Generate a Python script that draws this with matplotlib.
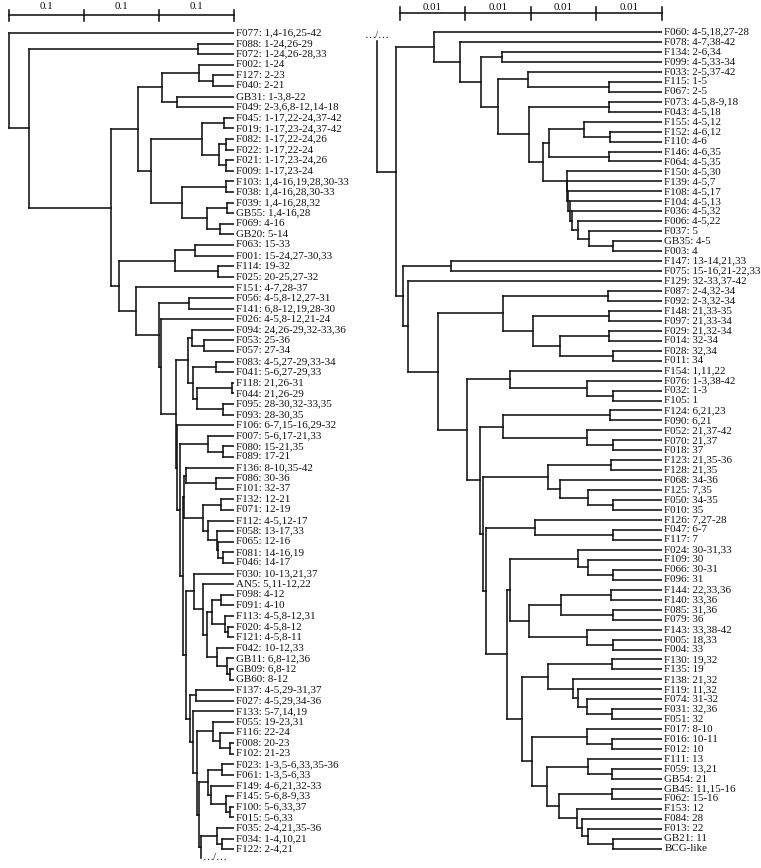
import matplotlib
matplotlib.use("Agg")
import matplotlib.pyplot as plt

# ---------------- data ----------------
LEFT_IDS = ["F077", "F088", "F072", "F002", "F127", "F040", "GB31", "F049", "F045", "F019",
            "F082", "F022", "F021", "F009", "F103", "F038", "F039", "GB55", "F069", "GB20",
            "F063", "F001", "F114", "F025", "F151", "F056", "F141", "F026", "F094", "F053",
            "F057", "F083", "F041", "F118", "F044", "F095", "F093", "F106", "F007", "F080",
            "F089", "F136", "F086", "F101", "F132", "F071", "F112", "F058", "F065", "F081",
            "F046", "F030", "AN5", "F098", "F091", "F113", "F020", "F121", "F042", "GB11",
            "GB09", "GB60", "F137", "F027", "F133", "F055", "F116", "F008", "F102", "F023",
            "F061", "F149", "F145", "F100", "F015", "F035", "F034", "F122"]
LEFT_SPACERS = ["1,4-16,25-42", "1-24,26-29", "1-24,26-28,33", "1-24", "2-23", "2-21",
                "1-3,8-22", "2-3,6,8-12,14-18", "1-17,22-24,37-42", "1-17,23-24,37-42",
                "1-17,22-24,26", "1-17,22-24", "1-17,23-24,26", "1-17,23-24",
                "1,4-16,19,28,30-33", "1,4-16,28,30-33", "1,4-16,28,32", "1,4-16,28", "4-16",
                "5-14", "15-33", "15-24,27-30,33", "19-32", "20-25,27-32", "4-7,28-37",
                "4-5,8-12,27-31", "6,8-12,19,28-30", "4-5,8-12,21-24", "24,26-29,32-33,36",
                "25-36", "27-34", "4-5,27-29,33-34", "5-6,27-29,33", "21,26-31", "21,26-29",
                "28-30,32-33,35", "28-30,35", "6-7,15-16,29-32", "5-6,17-21,33", "15-21,35",
                "17-21", "8-10,35-42", "30-36", "32-37", "12-21", "12-19", "4-5,12-17",
                "13-17,33", "12-16", "14-16,19", "14-17", "10-13,21,37", "5,11-12,22", "4-12",
                "4-10", "4-5,8-12,31", "4-5,8-12", "4-5,8-11", "10-12,33", "6,8-12,36",
                "6,8-12", "8-12", "4-5,29-31,37", "4-5,29,34-36", "5-7,14,19", "19-23,31",
                "22-24", "20-23", "21-23", "1-3,5-6,33,35-36", "1-3,5-6,33", "4-6,21,32-33",
                "5-6,8-9,33", "5-6,33,37", "5-6,33", "2-4,21,35-36", "1-4,10,21", "2-4,21"]

RIGHT_IDS = ["F060", "F078", "F134", "F099", "F033", "F115", "F067", "F073", "F043", "F155",
             "F152", "F110", "F146", "F064", "F150", "F139", "F108", "F104", "F036", "F006",
             "F037", "GB35", "F003", "F147", "F075", "F129", "F087", "F092", "F148", "F097",
             "F029", "F014", "F028", "F011", "F154", "F076", "F032", "F105", "F124", "F090",
             "F052", "F070", "F018", "F123", "F128", "F068", "F125", "F050", "F010", "F126",
             "F047", "F117", "F024", "F109", "F066", "F096", "F144", "F140", "F085", "F079",
             "F143", "F005", "F004", "F130", "F135", "F138", "F119", "F074", "F031", "F051",
             "F017", "F016", "F012", "F111", "F059", "GB54", "GB45", "F062", "F153", "F084",
             "F013", "GB21", "BCG-like"]
RIGHT_SPACERS = ["4-5,18,27-28", "4-7,38-42", "2-6,34", "4-5,33-34", "2-5,37-42", "1-5", "2-5",
                 "4-5,8-9,18", "4-5,18", "4-5,12", "4-6,12", "4-6", "4-6,35", "4-5,35", "4-5,30",
                 "4-5,7", "4-5,17", "4-5,13", "4-5,32", "4-5,22", "5", "4-5", "4",
                 "13-14,21,33", "15-16,21-22,33", "32-33,37-42", "2-4,32-34", "2-3,32-34",
                 "21,33-35", "21,33-34", "21,32-34", "32-34", "32,34", "34", "1,11,22",
                 "1-3,38-42", "1-3", "1", "6,21,23", "6,21", "21,37-42", "21,37", "37",
                 "21,35-36", "21,35", "34-36", "7,35", "34-35", "35", "7,27-28", "6-7", "7",
                 "30-31,33", "30", "30-31", "31", "22,33,36", "33,36", "31,36", "36",
                 "33,38-42", "18,33", "33", "19,32", "19", "21,32", "11,32", "31-32", "32,36",
                 "32", "8-10", "10-11", "10", "13", "13,21", "21", "11,15-16", "15-16", "12",
                 "28", "22", "11", ""]

CONT = "…/…"   # the tree continues in the other panel

# node = [height (distance from the tips), child, child, ...]
LT_A = [0.128,
        [0.096, [0.047, "F002", [0.028, "F127", "F040"]], [0.076, "GB31", "F049"]],
        [0.111,
         [0.043, [0.014, "F045", "F019"], [0.020, [0.011, "F082", "F022"], [0.011, "F021", "F009"]]],
         [0.069, [0.011, "F103", "F038"], [0.036, [0.009, "F039", "GB55"], [0.019, "F069", "GB20"]]]]]
LT_B = [0.061, [0.056, "F094", [0.040, "F053", "F057"]],
        [0.055, [0.024, "F083", "F041"], [0.049, [0.003, "F118", "F044"], [0.015, "F095", "F093"]]]]
LT_C = [0.067, [0.064, "F136", [0.024, "F086", "F101"]],
        [0.041, [0.017, "F132", "F071"],
         [0.035, "F112", [0.023, "F058", [0.021, "F065", [0.015, "F081", "F046"]]]]]]
LT_D = [0.053, "F030", [0.041, "AN5",
        [0.036, [0.029, [0.017, "F098", "F091"], [0.012, "F113", [0.008, "F020", "F121"]]],
         [0.023, "F042", [0.009, "GB11", [0.005, "GB09", "GB60"]]]]]]
LT_E = [0.049, [0.028, "F055", [0.019, "F116", [0.005, "F008", "F102"]]],
        [0.047, [0.035, [0.016, "F023", "F061"], [0.031, "F149", [0.011, "F145", [0.005, "F100", "F015"]]]],
         [0.044, [0.023, "F035", [0.016, "F034", "F122"]], CONT]]]
LT_F = [0.077, LT_B,
        [0.076, "F106",
         [0.072, [0.035, "F007", [0.015, "F080", "F089"]],
          [0.068, LT_C,
           [0.064, LT_D, [0.059, [0.051, "F137", "F027"], [0.055, "F133", LT_E]]]]]]]
LEFT_TREE = [0.300, "F077",
             [0.273, [0.048, "F088", "F072"],
              [0.164, LT_A,
               [0.153, [0.079, [0.052, "F063", "F001"], [0.021, "F114", "F025"]],
                [0.131, "F151",
                 [0.100, [0.060, "F056", "F141"], [0.097, "F026", LT_F]]]]]]]

RT_COMB = [0.01453, "F150", [0.01444, "F139", [0.01428, "F108", [0.01402, "F104",
           [0.01367, "F036", [0.01276, "F006", [0.01108, "F037", [0.00742, "GB35", "F003"]]]]]]]]
RT_A = [0.02500, [0.02043, "F033", [0.00808, "F115", "F067"]],
        [0.02027, [0.00808, "F073", "F043"],
         [0.01814, [0.01723, [0.01189, "F155", [0.00793, "F152", "F110"]], [0.00808, "F146", "F064"]],
          RT_COMB]]]
RT_UP = [0.03476, "F060", [0.03079, "F078", [0.02759, [0.02439, "F134", "F099"], RT_A]]]
RT_F087 = [0.02419, [0.00828, "F087", "F092"],
           [0.01962, [0.00803, "F148", "F097"], [0.01555, [0.00803, "F029", "F014"], [0.00752, "F028", "F011"]]]]
RT_F024 = [0.02317, [0.01285, "F024", [0.01123, "F109", [0.00752, "F066", "F096"]]],
           [0.02023, [0.01540, [0.00782, "F144", "F140"], [0.00752, "F085", "F079"]],
            [0.01148, "F143", [0.00752, "F005", "F004"]]]]
RT_F130 = [0.02130,
           [0.01733, [0.00758, "F130", "F135"],
            [0.01352, "F138", [0.01276, "F119", [0.01148, "F074", [0.00758, "F031", "F051"]]]]],
           [0.01986, [0.01148, "F017", [0.00758, "F016", "F012"]],
            [0.01758, [0.01123, "F111", [0.00758, "F059", "GB54"]],
             [0.01570, [0.00758, "GB45", "F062"],
              [0.01291, "F153", [0.01224, "F084", [0.01123, "F013", [0.00742, "GB21", "BCG-like"]]]]]]]]
RT_LOW = [0.02968,
          [0.02317, "F154", [0.01148, "F076", [0.00752, "F032", "F105"]]],
          [0.02774,
           [0.02431, [0.00793, "F124", "F090"], [0.01148, "F052", [0.00752, "F070", "F018"]]],
           [0.02724,
            [0.01738, [0.00782, "F123", "F128"], [0.01555, "F068", [0.01133, "F125", [0.00752, "F050", "F010"]]]],
            [0.02688, [0.01936, "F126", [0.00752, "F047", "F117"]],
             [0.02367, RT_F024, RT_F130]]]]]
RIGHT_TREE = [0.0434, CONT,
              [0.04055, RT_UP,
               [0.03944, [0.03221, "F147", "F075"],
                [0.03867, "F129", [0.03415, RT_F087, RT_LOW]]]]]

LEFT_SCALE_STEP, LEFT_SCALE_N = 0.1, 3
RIGHT_SCALE_STEP, RIGHT_SCALE_N = 0.01, 4

# ---------------- layout ----------------
W, H, DPI = 761, 868, 100
FONT = "Liberation Serif"
FS = 7.9
LW = 1.15
COL = "#111111"

fig = plt.figure(figsize=(W / DPI, H / DPI), dpi=DPI)
fig.patch.set_facecolor("white")


def make_axes(x0_px, tip_px, px_per_unit, top_px, row_px):
    ax = fig.add_axes([x0_px / W, 0, (tip_px - x0_px) / W, 1])
    ax.set_xlim((tip_px - x0_px) / px_per_unit, 0)
    ax.set_ylim((H - top_px) / row_px, -top_px / row_px)
    ax.axis("off")
    return ax


def draw_tree(ax, tree, labels, ppu, cont_row, marker_mode):
    state = {"row": 0}
    gap = 2.5 / ppu

    def rec(node):
        if isinstance(node, str):
            if node == CONT:
                return None, cont_row
            r = state["row"]
            state["row"] += 1
            ax.text(-gap, r, labels[node], ha="left", va="center", fontsize=FS,
                    family=FONT, color=COL, clip_on=False)
            return 0.0, r
        h = node[0]
        kids = [rec(c) for c in node[1:]]
        ys = [k[1] for k in kids]
        ax.plot([h, h], [min(ys), max(ys)], color=COL, lw=LW, solid_capstyle="projecting")
        for (kh, ky), c in zip(kids, node[1:]):
            if c == CONT:
                if marker_mode == "below":
                    ax.text(h - 2 / ppu, ky, CONT, ha="left", va="center", fontsize=FS,
                            family=FONT, color=COL, clip_on=False)
                else:
                    ax.text(h, ky - 0.55, CONT, ha="center", va="center", fontsize=FS,
                            family=FONT, color=COL, clip_on=False)
                continue
            ax.plot([h, kh], [ky, ky], color=COL, lw=LW, solid_capstyle="projecting")
        return h, (ys[0] + ys[-1]) / 2

    rec(tree)


def draw_scale(ax, step, n, bar_row, tick_half, label_row, text):
    ax.plot([0, step * n], [bar_row, bar_row], color=COL, lw=LW, clip_on=False)
    for i in range(n + 1):
        ax.plot([i * step, i * step], [bar_row - tick_half, bar_row + tick_half],
                color=COL, lw=LW, clip_on=False)
    for i in range(n):
        ax.text((i + 0.5) * step, label_row, text, ha="center", va="center",
                fontsize=FS, family=FONT, color=COL, clip_on=False)


left_labels = {i: f"{i}: {s}" for i, s in zip(LEFT_IDS, LEFT_SPACERS)}
right_labels = {i: (f"{i}: {s}" if s else i) for i, s in zip(RIGHT_IDS, RIGHT_SPACERS)}

# left panel
L_TOP, L_ROW, L_PPU, L_TIP = 33.0, 10.6, 750.0, 234.0
axL = make_axes(0, L_TIP, L_PPU, L_TOP, L_ROW)
draw_tree(axL, LEFT_TREE, left_labels, L_PPU, len(LEFT_IDS) - 0.2, "below")
draw_scale(axL, LEFT_SCALE_STEP, LEFT_SCALE_N, (15.5 - L_TOP) / L_ROW, 5.5 / L_ROW,
           (6.5 - L_TOP) / L_ROW, "0.1")

# right panel
R_TOP, R_ROW, R_PPU, R_TIP = 32.0, 9.96, 6560.0, 662.0
axR = make_axes(340, R_TIP, R_PPU, R_TOP, R_ROW)
draw_tree(axR, RIGHT_TREE, right_labels, R_PPU, 0.9, "above")
draw_scale(axR, RIGHT_SCALE_STEP, RIGHT_SCALE_N, (13.3 - R_TOP) / R_ROW, 6.5 / R_ROW,
           (7.5 - R_TOP) / R_ROW, "0.01")

fig.savefig("out.png", dpi=DPI, facecolor="white")
